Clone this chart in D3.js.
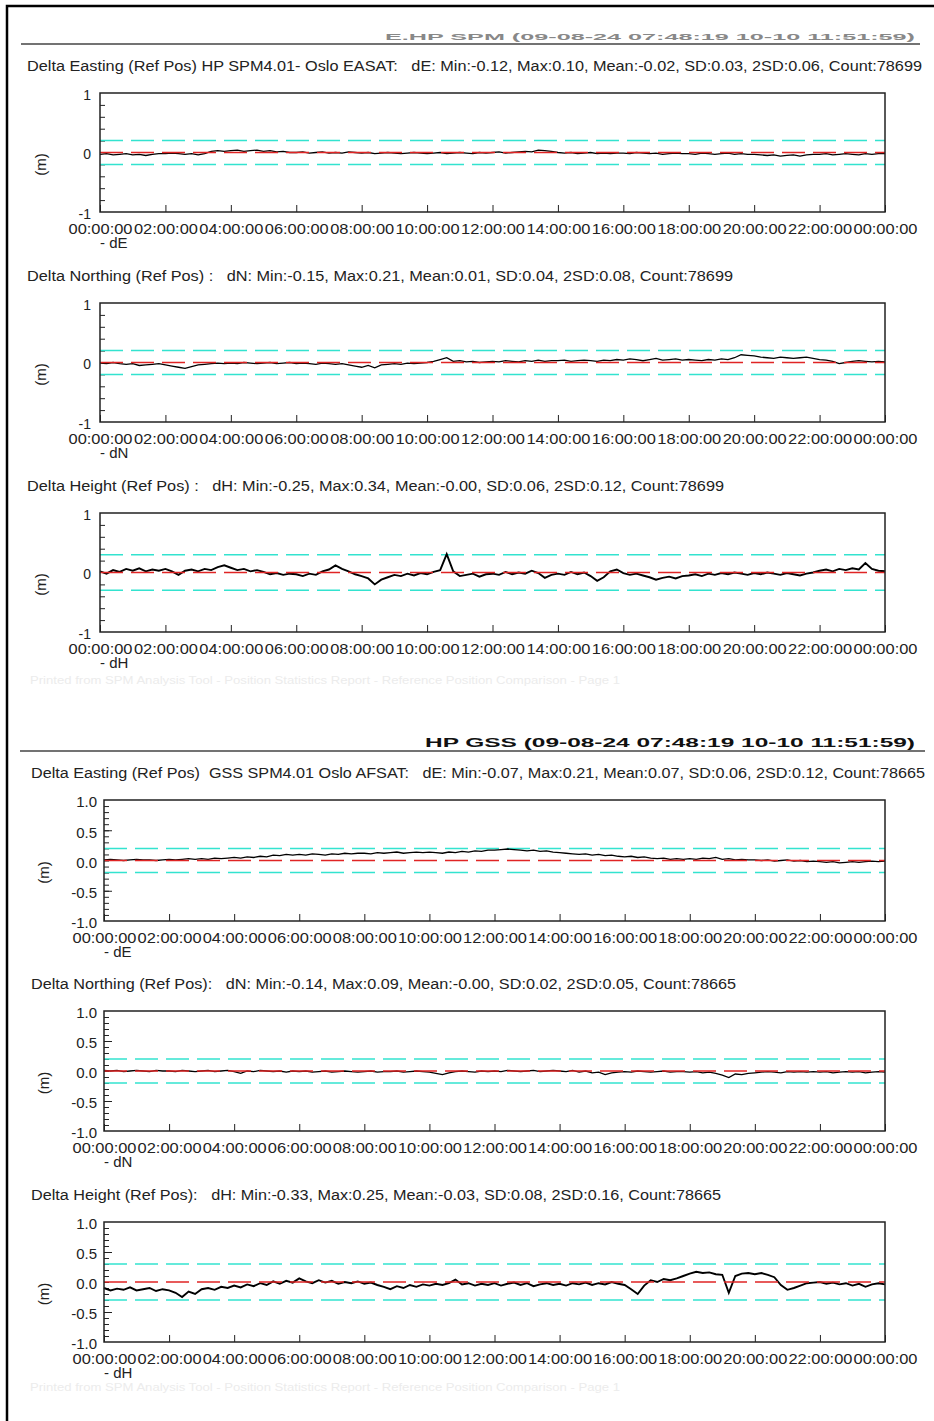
<!DOCTYPE html>
<html>
<head>
<meta charset="utf-8">
<script src="https://cdn.jsdelivr.net/npm/d3@7"></script>
<style>
  body { margin: 0; background: #fff; }
  text { font-family: "Liberation Sans", Arial, sans-serif; fill: #222; white-space: pre; }
</style>
</head>
<body>
<svg id="chart" width="934" height="1421"></svg>
<script>
// samples every 0.2 h (12 min), 00:00 .. 24:00
const sampleStep = 0.2;

const hpDE = [
  -0.03, -0.02, -0.04, -0.03, -0.02, -0.04, -0.03, -0.05, -0.03, -0.02,
  -0.02, -0.01, -0.02, -0.03, -0.02, -0.04, -0.02, 0.02, 0.03, 0.02,
  0.03, 0.04, 0.02, 0.03, 0.04, 0.02, 0.03, 0.01, 0.02, 0.00,
  0.00, 0.01, -0.01, 0.00, 0.01, -0.01, 0.00, -0.01, 0.01, 0.00,
  -0.01, 0.00, -0.02, -0.01, 0.00, -0.01, -0.02, -0.01, 0.00, -0.01,
  -0.02, -0.01, 0.00, -0.02, -0.01, 0.00, -0.01, -0.02, 0.00, -0.01,
  0.00, 0.01, -0.01, 0.00, 0.01, 0.02, 0.01, 0.04, 0.03, 0.02,
  0.00, -0.01, 0.00, -0.02, -0.01, 0.00, -0.02, -0.01, -0.02, -0.01,
  -0.01, -0.02, 0.00, -0.01, -0.02, -0.01, -0.03, -0.02, -0.01, -0.02,
  -0.02, -0.03, -0.01, -0.02, -0.03, -0.02, -0.01, -0.03, -0.02, -0.03,
  -0.03, -0.04, -0.05, -0.04, -0.06, -0.05, -0.04, -0.06, -0.04, -0.03,
  -0.03, -0.02, -0.04, -0.03, -0.02, -0.03, -0.04, -0.02, -0.03, -0.02,
  -0.02
];

const hpDN = [
  -0.01, -0.02, 0.00, -0.02, -0.03, -0.02, -0.05, -0.04, -0.03, -0.02,
  -0.04, -0.06, -0.08, -0.10, -0.07, -0.04, -0.03, -0.02, -0.01, -0.02,
  -0.01, -0.02, 0.00, -0.01, -0.02, -0.01, 0.00, -0.02, -0.01, 0.00,
  -0.02, -0.01, -0.02, -0.03, -0.01, -0.02, -0.03, -0.02, -0.04, -0.06,
  -0.08, -0.05, -0.09, -0.04, -0.03, -0.02, -0.03, -0.01, -0.02, -0.01,
  0.00, 0.02, 0.05, 0.08, 0.02, 0.03, 0.01, 0.02, 0.00, 0.01,
  0.02, 0.01, 0.03, 0.02, 0.01, 0.03, 0.02, 0.04, 0.02, 0.03,
  0.03, 0.04, 0.02, 0.03, 0.04, 0.03, 0.02, 0.04, 0.03, 0.05,
  0.04, 0.06, 0.05, 0.03, 0.05, 0.07, 0.04, 0.05, 0.06, 0.04,
  0.05, 0.04, 0.03, 0.05, 0.04, 0.06, 0.05, 0.08, 0.13, 0.12,
  0.11, 0.09, 0.08, 0.07, 0.09, 0.08, 0.07, 0.08, 0.09, 0.07,
  0.05, 0.04, 0.02, -0.02, 0.00, 0.02, 0.03, 0.02, 0.01, 0.02,
  0.01
];

const hpDH = [
  0.02, -0.02, 0.04, 0.01, 0.06, 0.03, 0.07, 0.02, 0.05, 0.03,
  0.06, 0.02, -0.04, 0.03, 0.05, 0.02, 0.06, 0.04, 0.09, 0.12,
  0.08, 0.04, 0.06, 0.02, 0.04, 0.01, -0.03, -0.01, -0.04, -0.02,
  -0.03, -0.06, -0.02, -0.04, 0.02, 0.05, 0.12, 0.06, 0.02, -0.03,
  -0.06, -0.10, -0.20, -0.12, -0.08, -0.04, -0.06, -0.02, -0.05, -0.01,
  -0.03, 0.01, 0.04, 0.31, 0.02, -0.06, -0.04, -0.02, -0.07, -0.03,
  -0.02, -0.04, 0.01, -0.03, 0.00, -0.02, 0.03, -0.01, -0.09, -0.04,
  -0.02, -0.04, 0.01, -0.03, 0.00, -0.06, -0.14, -0.08, 0.02, 0.05,
  -0.01, -0.04, -0.02, -0.05, -0.08, -0.12, -0.09, -0.07, -0.10, -0.06,
  -0.05, -0.03, -0.06, -0.02, -0.04, -0.01, -0.03, 0.00, -0.02, -0.04,
  -0.01, -0.03, 0.00, -0.02, -0.04, -0.01, -0.03, -0.05, -0.02, 0.00,
  0.03, 0.05, 0.02, 0.06, 0.04, 0.07, 0.05, 0.16, 0.06, 0.03,
  0.02
];

const gssDE = [
  0.01, 0.02, 0.01, 0.00, 0.01, 0.02, 0.01, 0.01, 0.00, 0.01,
  0.02, 0.01, 0.02, 0.03, 0.02, 0.03, 0.02, 0.04, 0.03, 0.04,
  0.05, 0.04, 0.06, 0.05, 0.07, 0.06, 0.09, 0.08, 0.10, 0.09,
  0.10, 0.09, 0.11, 0.10, 0.09, 0.11, 0.10, 0.12, 0.11, 0.12,
  0.12, 0.11, 0.13, 0.12, 0.13, 0.14, 0.12, 0.13, 0.14, 0.13,
  0.14, 0.13, 0.12, 0.14, 0.13, 0.15, 0.14, 0.16, 0.15, 0.17,
  0.17, 0.18, 0.19, 0.18, 0.17, 0.16, 0.17, 0.15, 0.16, 0.14,
  0.13, 0.12, 0.11, 0.10, 0.11, 0.09, 0.10, 0.08, 0.09, 0.07,
  0.06, 0.07, 0.05, 0.06, 0.04, 0.03, 0.04, 0.02, 0.03, 0.02,
  0.03, 0.02, 0.04, 0.03, 0.05, 0.02, 0.03, 0.01, 0.02, 0.01,
  0.01, 0.00, 0.01, -0.01, 0.00, 0.01, -0.01, 0.00, -0.02, -0.01,
  -0.02, -0.03, -0.02, -0.04, -0.03, -0.02, -0.03, -0.02, -0.01, -0.02,
  -0.01
];

const gssDN = [
  0.01, 0.00, 0.01, -0.01, 0.00, 0.01, 0.00, -0.01, 0.01, 0.00,
  0.00, -0.01, 0.01, 0.00, -0.01, 0.00, 0.01, -0.01, 0.00, 0.01,
  -0.01, -0.04, 0.00, -0.01, 0.01, 0.00, -0.01, 0.00, -0.02, 0.00,
  -0.01, 0.00, -0.02, -0.01, 0.00, -0.02, -0.01, 0.00, -0.01, -0.02,
  -0.01, 0.00, -0.02, -0.01, -0.01, 0.00, -0.02, -0.01, 0.00, -0.01,
  -0.02, -0.04, -0.06, -0.03, -0.01, 0.00, -0.01, -0.02, 0.00, -0.01,
  0.00, -0.01, 0.01, 0.00, -0.01, 0.00, 0.01, -0.01, 0.00, 0.01,
  0.00, -0.01, 0.01, -0.02, 0.00, -0.03, -0.02, -0.06, -0.03, -0.02,
  -0.01, -0.02, 0.00, -0.01, -0.02, -0.01, 0.00, -0.02, -0.01, -0.01,
  -0.02, -0.01, -0.03, -0.02, -0.04, -0.07, -0.11, -0.05, -0.06, -0.04,
  -0.03, -0.02, -0.01, -0.02, -0.03, -0.01, -0.02, -0.01, -0.02, -0.01,
  -0.02, -0.01, -0.03, -0.02, -0.01, -0.02, -0.01, -0.03, -0.02, -0.01,
  -0.02
];

const gssDH = [
  -0.10, -0.14, -0.11, -0.13, -0.09, -0.14, -0.12, -0.10, -0.15, -0.12,
  -0.14, -0.18, -0.25, -0.16, -0.20, -0.12, -0.10, -0.13, -0.08, -0.10,
  -0.06, -0.09, -0.04, -0.07, -0.02, -0.05, 0.01, -0.03, 0.02, -0.01,
  0.06, 0.01, -0.02, 0.03, -0.01, 0.02, -0.03, 0.00, -0.02, 0.01,
  -0.03, -0.01, -0.05, -0.08, -0.12, -0.07, -0.10, -0.05, -0.08, -0.04,
  -0.06, -0.03, -0.05, -0.02, 0.04, -0.04, -0.02, -0.06, -0.03, -0.05,
  -0.02, -0.06, -0.03, -0.01, -0.05, -0.02, -0.07, -0.04, -0.02, -0.05,
  -0.03, -0.06, -0.02, -0.04, -0.01, -0.05, -0.02, -0.04, 0.00, -0.03,
  -0.05, -0.12, -0.20, -0.06, 0.03, 0.00, 0.05, 0.03, 0.06, 0.10,
  0.14, 0.17, 0.15, 0.16, 0.13, 0.12, -0.18, 0.10, 0.14, 0.15,
  0.13, 0.15, 0.12, 0.08, -0.05, -0.13, -0.10, -0.06, -0.02, -0.01,
  0.00, -0.03, -0.01, -0.04, -0.02, -0.06, -0.03, -0.08, -0.04, -0.02,
  -0.04
];

const hourTicks = [0, 2, 4, 6, 8, 10, 12, 14, 16, 18, 20, 22, 24];
const hourLabels = ['00:00:00', '02:00:00', '04:00:00', '06:00:00', '08:00:00', '10:00:00', '12:00:00',
  '14:00:00', '16:00:00', '18:00:00', '20:00:00', '22:00:00', '00:00:00'];

const hpYTicks = [1, 0, -1];
const hpYLabels = ['1', '0', '-1'];
const gssYTicks = [1, 0.5, 0, -0.5, -1];
const gssYLabels = ['1.0', '0.5', '0.0', '-0.5', '-1.0'];

// tolerance lines (cyan) per component
const limits = { dE: 0.2, dN: 0.2, dH: 0.3 };

const titles = [
  'Delta Easting (Ref Pos) HP SPM4.01- Oslo EASAT:   dE: Min:-0.12, Max:0.10, Mean:-0.02, SD:0.03, 2SD:0.06, Count:78699',
  'Delta Northing (Ref Pos) :   dN: Min:-0.15, Max:0.21, Mean:0.01, SD:0.04, 2SD:0.08, Count:78699',
  'Delta Height (Ref Pos) :   dH: Min:-0.25, Max:0.34, Mean:-0.00, SD:0.06, 2SD:0.12, Count:78699',
  'Delta Easting (Ref Pos)  GSS SPM4.01 Oslo AFSAT:   dE: Min:-0.07, Max:0.21, Mean:0.07, SD:0.06, 2SD:0.12, Count:78665',
  'Delta Northing (Ref Pos):   dN: Min:-0.14, Max:0.09, Mean:-0.00, SD:0.02, 2SD:0.05, Count:78665',
  'Delta Height (Ref Pos):   dH: Min:-0.33, Max:0.25, Mean:-0.03, SD:0.08, 2SD:0.16, Count:78665'
];

const headers = ['E.HP SPM (09-08-24 07:48:19 10-10 11:51:59)', 'HP GSS (09-08-24 07:48:19 10-10 11:51:59)'];

const svg = d3.select('#chart');

// page border
svg.append('path')
  .attr('d', 'M7,1421 V6 H934')
  .attr('fill', 'none')
  .attr('stroke', '#000')
  .attr('stroke-width', 2.5);

// section headers: only a thin strip of the big title shows in the scan
const sections = [
  { lineY: 44, x1: 21, x2: 920, hx1: 385, hx2: 915, fs: 9, col: '#888', foot: 684 },
  { lineY: 751, x1: 20, x2: 925, hx1: 425, hx2: 915, fs: 12, col: '#111', foot: 1391 }
];
sections.forEach((s, i) => {
  svg.append('text')
    .attr('x', s.hx1)
    .attr('y', s.lineY - 4)
    .attr('textLength', s.hx2 - s.hx1)
    .attr('lengthAdjust', 'spacingAndGlyphs')
    .style('font-size', s.fs + 'px')
    .style('font-weight', 'bold')
    .style('fill', s.col)
    .text(headers[i]);
  svg.append('line')
    .attr('x1', s.x1).attr('x2', s.x2)
    .attr('y1', s.lineY).attr('y2', s.lineY)
    .attr('stroke', '#444').attr('stroke-width', 1.5);
  svg.append('text')
    .attr('x', 30).attr('y', s.foot)
    .attr('textLength', 590)
    .attr('lengthAdjust', 'spacingAndGlyphs')
    .style('font-size', '10px')
    .style('fill', '#ececec')
    .text('Printed from SPM Analysis Tool - Position Statistics Report - Reference Position Comparison - Page 1');
});

const panels = [
  { top: 93, bottom: 212, left: 100, titleX: 27, titleW: 895, tag: '- dE', data: hpDE, limit: limits.dE, gss: false, lw: 1.3 },
  { top: 303, bottom: 422, left: 100, titleX: 27, titleW: 706, tag: '- dN', data: hpDN, limit: limits.dN, gss: false, lw: 1.3 },
  { top: 513, bottom: 632, left: 100, titleX: 27, titleW: 697, tag: '- dH', data: hpDH, limit: limits.dH, gss: false, lw: 1.9 },
  { top: 800, bottom: 921, left: 104, titleX: 31, titleW: 894, tag: '- dE', data: gssDE, limit: limits.dE, gss: true, lw: 1.3 },
  { top: 1011, bottom: 1131, left: 104, titleX: 31, titleW: 705, tag: '- dN', data: gssDN, limit: limits.dN, gss: true, lw: 1.3 },
  { top: 1222, bottom: 1342, left: 104, titleX: 31, titleW: 690, tag: '- dH', data: gssDH, limit: limits.dH, gss: true, lw: 1.9 }
];
const right = 885;

panels.forEach((p, k) => {
  const x = d3.scaleLinear().domain([0, 24]).range([p.left, right]);
  const y = d3.scaleLinear().domain([-1, 1]).range([p.bottom, p.top]);
  const g = svg.append('g');

  g.append('text')
    .attr('x', p.titleX)
    .attr('y', p.top - 22)
    .attr('textLength', p.titleW)
    .attr('lengthAdjust', 'spacingAndGlyphs')
    .style('font-size', '14px')
    .text(titles[k]);

  // minor y ticks
  const minor = p.gss ? d3.range(-9, 10).map(d => d / 10) : [-0.8, -0.6, -0.4, -0.2, 0.2, 0.4, 0.6, 0.8];
  g.append('g')
    .attr('transform', `translate(${p.left},0)`)
    .call(d3.axisLeft(y).tickValues(minor).tickSize(-5).tickFormat(''))
    .call(a => a.select('.domain').remove())
    .call(a => a.selectAll('line').attr('stroke', '#222'));
  if (p.gss) {
    g.append('g')
      .attr('transform', `translate(${p.left},0)`)
      .call(d3.axisLeft(y).tickValues([-0.5, 0.5]).tickSize(-8).tickFormat(''))
      .call(a => a.select('.domain').remove())
      .call(a => a.selectAll('line').attr('stroke', '#222'));
  }

  // y labels
  const yt = p.gss ? gssYTicks : hpYTicks;
  const yl = p.gss ? gssYLabels : hpYLabels;
  g.append('g')
    .attr('transform', `translate(${p.left},0)`)
    .call(d3.axisLeft(y).tickValues(yt).tickSize(0).tickPadding(p.gss ? 7 : 9).tickFormat((d, i) => yl[i]))
    .call(a => a.select('.domain').remove())
    .call(a => a.selectAll('text')
      .attr('dy', '0.45em')
      .attr('font-family', null)
      .style('font-size', p.gss ? '15px' : '14px')
      .style('fill', '#222'));

  g.append('text')
    .attr('transform', `translate(${p.gss ? 44 : 41},${(p.top + p.bottom) / 2 + 12}) rotate(-90)`)
    .attr('text-anchor', 'middle')
    .attr('dy', '0.35em')
    .style('font-size', '15px')
    .text('(m)');

  // x axis ticks and labels
  g.append('g')
    .attr('transform', `translate(0,${p.bottom})`)
    .call(d3.axisBottom(x).tickValues(hourTicks).tickSize(-7).tickPadding(11).tickFormat((d, i) => hourLabels[i]))
    .call(a => a.select('.domain').remove())
    .call(a => a.selectAll('line').attr('stroke', '#222'))
    .call(a => a.selectAll('text')
      .attr('font-family', null)
      .attr('textLength', 64)
      .attr('lengthAdjust', 'spacingAndGlyphs')
      .style('font-size', '15px')
      .style('fill', '#222'));

  g.append('text')
    .attr('x', p.left)
    .attr('y', p.bottom + 36)
    .style('font-size', '15px')
    .text(p.tag);

  // tolerance lines
  [p.limit, -p.limit].forEach(v => {
    g.append('line')
      .attr('x1', p.left).attr('x2', right)
      .attr('y1', y(v)).attr('y2', y(v))
      .attr('stroke', '#33e3cf')
      .attr('stroke-width', 1.5)
      .attr('stroke-dasharray', '23,8');
  });

  // data
  const line = d3.line()
    .x((d, i) => x(i * sampleStep))
    .y(d => y(d));
  g.append('path')
    .datum(p.data)
    .attr('d', line)
    .attr('fill', 'none')
    .attr('stroke', '#000')
    .attr('stroke-width', p.lw);

  g.append('line')
    .attr('x1', p.left).attr('x2', right)
    .attr('y1', y(0)).attr('y2', y(0))
    .attr('stroke', '#e02424')
    .attr('stroke-width', 1.3)
    .attr('stroke-dasharray', '23,8');

  // frame
  g.append('rect')
    .attr('x', p.left).attr('y', p.top)
    .attr('width', right - p.left).attr('height', p.bottom - p.top)
    .attr('fill', 'none')
    .attr('stroke', '#222')
    .attr('stroke-width', 1.5);
});
</script>
</body>
</html>
